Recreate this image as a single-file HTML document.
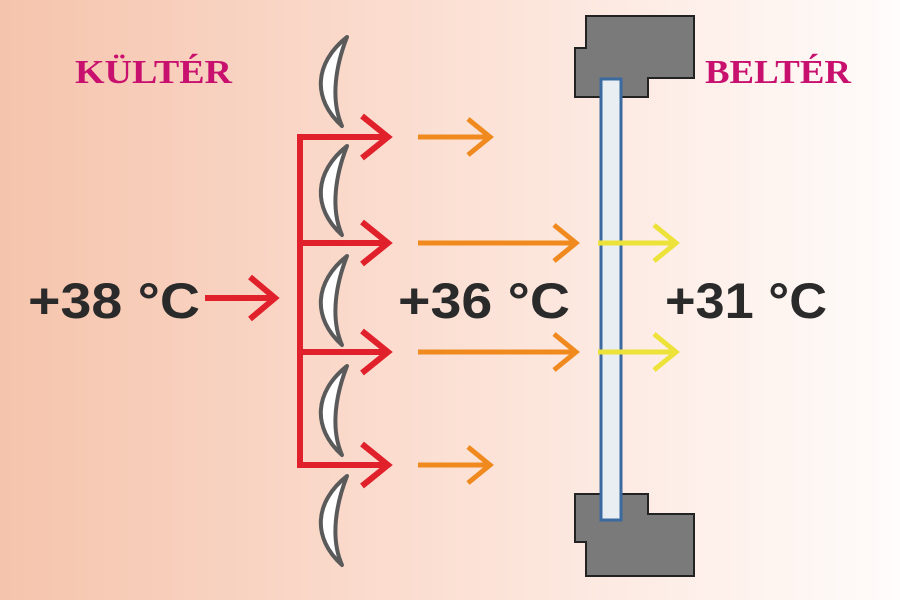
<!DOCTYPE html>
<html><head><meta charset="utf-8"><style>
html,body{margin:0;padding:0}
body{width:900px;height:600px;overflow:hidden}
</style></head><body>
<svg width="900" height="600" viewBox="0 0 900 600" xmlns="http://www.w3.org/2000/svg">
<defs>
<linearGradient id="bg" x1="0" x2="1" y1="0" y2="0">
<stop offset="0" stop-color="#f5c4ac"/>
<stop offset="0.45" stop-color="#fbddd0"/>
<stop offset="1" stop-color="#fffcfb"/>
</linearGradient>
<path id="lv" d="M347 0 C 314 26, 312 62, 342 89 C 330 62, 336 28, 347 0 Z" fill="#fff" stroke="#5a5a5a" stroke-width="4" stroke-linejoin="round"/>
</defs>
<rect width="900" height="600" fill="url(#bg)"/>
<g font-family="Liberation Serif, serif" font-weight="bold" font-size="34" fill="#c8106e">
<text x="75" y="83" textLength="157" lengthAdjust="spacingAndGlyphs">KÜLTÉR</text>
<text x="705" y="83" textLength="146" lengthAdjust="spacingAndGlyphs">BELTÉR</text>
</g>
<g font-family="Liberation Sans, sans-serif" font-weight="bold" font-size="50" fill="#2a2a2a">
<text x="28" y="318" textLength="172" lengthAdjust="spacingAndGlyphs">+38 °C</text>
<text x="398" y="318" textLength="172" lengthAdjust="spacingAndGlyphs">+36 °C</text>
<text x="665" y="318" textLength="162" lengthAdjust="spacingAndGlyphs">+31 °C</text>
</g>
<use href="#lv" y="37"/>
<use href="#lv" y="146"/>
<use href="#lv" y="256"/>
<use href="#lv" y="366"/>
<use href="#lv" y="476"/>
<g stroke="#e0202a" stroke-width="6" fill="none" stroke-linejoin="miter">
<path d="M300 134 V468"/>
<path d="M297 137 H388 M362 116 L388 137 L362 158"/>
<path d="M300 243 H388 M362 222 L388 243 L362 264"/>
<path d="M300 352 H388 M362 331 L388 352 L362 373"/>
<path d="M300 465 H388 M362 444 L388 465 L362 486"/>
<path d="M205 298 H275 M250 277 L275 298 L250 319"/>
</g>
<g stroke="#f08a1e" stroke-width="5" fill="none">
<path d="M418 137 H490 M468 119 L490 137 L468 155"/>
<path d="M418 465 H490 M468 447 L490 465 L468 483"/>
<path d="M418 243 H576 M554 225 L576 243 L554 261"/>
<path d="M418 352 H576 M554 334 L576 352 L554 370"/>
</g>
<g fill="#7a7a7a" stroke="#222" stroke-width="2">
<path d="M586 16 H694 V78 H648 V97 H575 V48 H586 Z"/>
<path d="M575 494 H648 V514 H694 V576 H586 V542 H575 Z"/>
</g>
<rect x="601" y="79" width="20" height="441" fill="#e8eef2" stroke="#3a6aa0" stroke-width="3"/>
<g stroke="#ede23a" stroke-width="5" fill="none">
<path d="M598 243 H676 M654 225 L676 243 L654 261"/>
<path d="M598 352 H676 M654 334 L676 352 L654 370"/>
</g>
</svg>
</body></html>
